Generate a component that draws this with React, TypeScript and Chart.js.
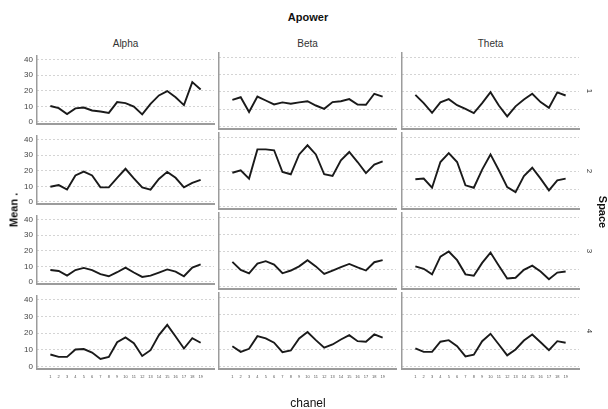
import React, { useEffect, useRef } from 'react';
import { Chart, registerables } from 'chart.js';

Chart.register(...registerables);

// ---------- data ----------
const channels = [1, 2, 3, 4, 5, 6, 7, 8, 9, 10, 11, 12, 13, 14, 15, 16, 17, 18, 19];
const bands = ['Alpha', 'Beta', 'Theta'];
const spaces = ['1', '2', '3', '4'];
const yTickValues = [0, 10, 20, 30, 40];

const alphaSpace1 = [10.2, 8.8, 5.0, 8.7, 9.2, 7.3, 6.7, 5.8, 12.7, 12.1, 9.8, 4.8, 11.6, 17.0, 19.8, 15.8, 10.8, 25.6, 20.8];
const betaSpace1 = [15.4, 16.9, 8.3, 17.3, 15.0, 12.7, 13.9, 13.1, 13.9, 14.6, 12.1, 10.2, 14.1, 14.6, 15.8, 12.7, 12.5, 18.9, 17.3];
const thetaSpace1 = [18.3, 13.5, 7.9, 13.9, 15.8, 12.3, 10.2, 7.7, 13.5, 19.8, 12.1, 5.8, 11.6, 15.6, 18.9, 14.1, 10.8, 19.7, 17.9];

const alphaSpace2 = [9.7, 10.8, 7.9, 17.0, 19.5, 17.0, 9.3, 9.3, 15.5, 21.3, 15.1, 9.3, 7.9, 14.7, 19.3, 15.5, 9.3, 12.2, 14.1];
const betaSpace2 = [19.5, 20.9, 16.1, 33.0, 33.0, 32.5, 19.9, 18.6, 30.1, 35.4, 30.1, 18.6, 17.6, 26.7, 31.5, 25.7, 19.3, 24.2, 26.1];
const thetaSpace2 = [15.7, 16.1, 10.8, 25.7, 30.9, 25.7, 12.2, 10.8, 21.3, 30.1, 20.9, 11.2, 8.3, 17.6, 22.4, 16.1, 9.3, 15.1, 16.1];

const alphaSpace3 = [7.6, 7.0, 4.0, 7.6, 9.0, 7.6, 5.0, 3.6, 6.2, 9.2, 6.0, 3.2, 4.0, 6.0, 8.0, 6.6, 3.6, 9.2, 11.2];
const betaSpace3 = [14.2, 9.6, 7.6, 13.2, 14.6, 12.6, 7.6, 9.2, 11.6, 15.2, 11.6, 7.2, 9.2, 11.2, 13.0, 11.0, 9.2, 14.0, 15.2];
const thetaSpace3 = [11.6, 10.2, 7.0, 17.2, 20.2, 15.2, 7.0, 6.2, 13.6, 19.6, 12.0, 4.6, 5.0, 9.6, 12.0, 8.6, 4.2, 8.0, 8.6];

const alphaSpace4 = [7.2, 5.8, 5.8, 10.2, 10.5, 8.4, 4.5, 5.8, 14.6, 17.5, 14.0, 6.3, 9.8, 18.9, 25.0, 18.0, 10.8, 17.0, 14.3];
const betaSpace4 = [11.7, 8.4, 10.2, 17.5, 16.2, 13.7, 8.2, 9.2, 16.2, 19.9, 15.2, 10.8, 12.7, 15.6, 18.1, 14.6, 14.3, 18.5, 16.6];
const thetaSpace4 = [10.4, 8.4, 8.4, 14.3, 15.2, 11.7, 5.8, 6.8, 14.6, 18.9, 12.7, 6.4, 9.8, 15.0, 18.5, 14.0, 9.4, 14.6, 13.7];

const grid = [
  [alphaSpace1, betaSpace1, thetaSpace1],
  [alphaSpace2, betaSpace2, thetaSpace2],
  [alphaSpace3, betaSpace3, thetaSpace3],
  [alphaSpace4, betaSpace4, thetaSpace4],
];

// ---------- layout ----------
const COL_LEFT = [37, 219, 402];
const ROW_TOP = [53, 133, 213, 293];
const PLOT_W = 177;
const PLOT_H = 76;
const PAD_T = 6;
const PAD_R = 6;
const FONT = "'Liberation Sans Narrow', 'Liberation Sans', Arial, sans-serif";

function Panel({ row, col, values }: { row: number; col: number; values: number[] }) {
  const ref = useRef<HTMLCanvasElement>(null);
  const yW = col === 0 ? 37 : 4;
  const xH = row === 3 ? 16 : 4;
  const left = COL_LEFT[col] - yW;
  const top = ROW_TOP[row] - PAD_T;
  const width = yW + PLOT_W + PAD_R;
  const height = PAD_T + PLOT_H + xH;

  useEffect(() => {
    if (!ref.current) return;
    const chart = new Chart(ref.current, {
      type: 'line',
      data: {
        datasets: [
          {
            data: values.map((v, i) => ({ x: channels[i], y: v })),
            borderColor: '#1a1a1a',
            borderWidth: 1.9,
            pointRadius: 0,
            tension: 0,
            fill: false,
          },
        ],
      },
      options: {
        responsive: false,
        animation: false,
        devicePixelRatio: 1,
        layout: { padding: { top: PAD_T, right: PAD_R, left: 0, bottom: 0 } },
        plugins: { legend: { display: false }, tooltip: { enabled: false }, title: { display: false } },
        scales: {
          x: {
            type: 'linear',
            min: -0.6,
            max: 20.6,
            afterBuildTicks: (ax: any) => {
              ax.ticks = channels.map((v) => ({ value: v }));
            },
            afterFit: (ax: any) => {
              ax.height = xH;
            },
            grid: { display: false, drawTicks: false },
            border: { display: true, color: '#9c9c9c', width: 2 },
            ticks: {
              display: row === 3,
              autoSkip: false,
              maxRotation: 0,
              padding: 5,
              color: '#555',
              font: { size: 4, family: FONT },
            },
          },
          y: {
            type: 'linear',
            min: -1.5,
            max: 42.5,
            afterBuildTicks: (ax: any) => {
              ax.ticks = yTickValues.map((v) => ({ value: v }));
            },
            afterFit: (ax: any) => {
              ax.width = yW;
            },
            grid: { color: '#a8a8a8', lineWidth: 1, drawTicks: false },
            border: { display: true, color: '#9c9c9c', width: 1.5, dash: [1, 3] },
            ticks: {
              display: col === 0,
              padding: 4,
              color: '#444',
              font: { size: 8, family: FONT },
            },
          },
        },
      },
    } as any);
    return () => chart.destroy();
  }, [row, col, values]);

  return (
    <canvas
      ref={ref}
      width={width}
      height={height}
      style={{ position: 'absolute', left, top, width, height }}
    />
  );
}

function Txt({
  x, y, text, size, bold, rot, color,
}: { x: number; y: number; text: string; size: number; bold?: boolean; rot?: number; color?: string }) {
  return (
    <div
      style={{
        position: 'absolute',
        left: x,
        top: y,
        transform: `translate(-50%, -50%) rotate(${rot || 0}deg)`,
        fontFamily: FONT,
        fontSize: size,
        fontWeight: bold ? 'bold' : 'normal',
        color: color || '#222',
        whiteSpace: 'nowrap',
        lineHeight: 1,
      }}
    >
      {text}
    </div>
  );
}

export default function App() {
  return (
    <div style={{ position: 'absolute', left: 0, top: 0, width: 608, height: 409, background: '#fff', overflow: 'hidden' }}>
      <Txt x={308} y={17} text="Apower" size={11} bold color="#111" />
      {bands.map((b, c) => (
        <Txt key={b} x={COL_LEFT[c] + PLOT_W / 2} y={44} text={b} size={10} color="#333" />
      ))}
      {grid.map((rowVals, r) =>
        rowVals.map((vals, c) => <Panel key={`${r}-${c}`} row={r} col={c} values={vals} />)
      )}
      {spaces.map((s, r) => (
        <Txt key={s} x={589} y={ROW_TOP[r] + 38} text={s} size={8} rot={90} color="#333" />
      ))}
      <Txt x={14} y={210} text="Mean ." size={11} bold rot={-90} color="#111" />
      <Txt x={602} y={212} text="Space" size={11} bold rot={90} color="#111" />
      <Txt x={308} y={403} text="chanel" size={12} color="#111" />
    </div>
  );
}
